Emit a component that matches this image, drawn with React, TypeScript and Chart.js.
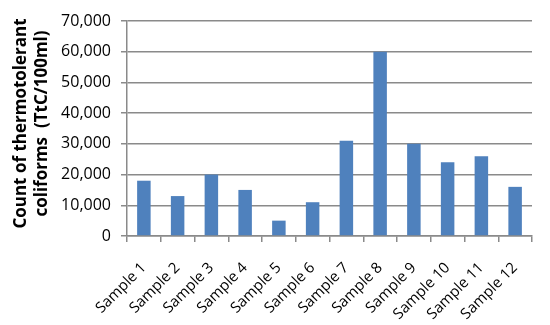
import React, { useEffect, useRef } from "react";
import { Chart, registerables } from "chart.js";

Chart.register(...registerables);

const categories = [
  "Sample 1", "Sample 2", "Sample 3", "Sample 4", "Sample 5", "Sample 6",
  "Sample 7", "Sample 8", "Sample 9", "Sample 10", "Sample 11", "Sample 12",
];
const counts = [18000, 13000, 20000, 15000, 5000, 11000, 31000, 60000, 30000, 24000, 26000, 16000];
const yTitle = ["Count of thermotolerant", "coliforms  (TtC/100ml)"];
const yMax = 70000;
const yStep = 10000;

const yTitlePlugin = {
  id: "yTitlePlugin",
  afterDraw(chart: any) {
    const { ctx, chartArea } = chart;
    ctx.save();
    ctx.fillStyle = "#000";
    ctx.font = "bold 17px 'Open Sans'";
    ctx.textAlign = "center";
    ctx.textBaseline = "middle";
    const cy = (chartArea.top + chartArea.bottom) / 2 - 5;
    yTitle.forEach((line, i) => {
      ctx.save();
      ctx.translate(21 + i * 21, cy);
      ctx.rotate(-Math.PI / 2);
      ctx.fillText(line, 0, 0);
      ctx.restore();
    });
    ctx.restore();
  },
};

export default function App() {
  const ref = useRef<HTMLCanvasElement>(null);
  useEffect(() => {
    if (!ref.current) return;
    const chart = new Chart(ref.current, {
      type: "bar",
      data: {
        labels: categories,
        datasets: [
          {
            data: counts,
            backgroundColor: "#4F81BD",
            borderWidth: 0,
            barPercentage: 0.4,
            categoryPercentage: 1,
          },
        ],
      },
      plugins: [yTitlePlugin],
      options: {
        responsive: false,
        animation: false,
        layout: { padding: { top: 21, right: 18, left: 0, bottom: 0 } },
        plugins: { legend: { display: false }, tooltip: { enabled: false } },
        scales: {
          x: {
            grid: {
              drawOnChartArea: false,
              drawTicks: true,
              tickLength: 6,
              color: "#8a8a8a",
              lineWidth: 1.5,
            },
            border: { color: "#8a8a8a", width: 1.5 },
            ticks: {
              minRotation: 45,
              maxRotation: 45,
              padding: 17,
              color: "#000",
              font: { family: "Open Sans", size: 15 },
            },
            afterFit: (s: any) => {
              s.height = 89;
            },
          },
          y: {
            min: 0,
            max: yMax,
            ticks: {
              stepSize: yStep,
              padding: 10,
              color: "#000",
              font: { family: "Open Sans", size: 16 },
              callback: (v: any) => Number(v).toLocaleString("en-US"),
            },
            grid: {
              color: "#8a8a8a",
              lineWidth: 1.5,
              tickLength: 6,
            },
            border: { color: "#8a8a8a", width: 1.5 },
            afterFit: (s: any) => {
              s.width = 127;
            },
          },
        },
      },
    });
    return () => chart.destroy();
  }, []);
  return (
    <div style={{ position: "absolute", left: 0, top: 0, width: 550, height: 325, background: "#fff" }}>
      <canvas ref={ref} width={550} height={325} />
    </div>
  );
}
